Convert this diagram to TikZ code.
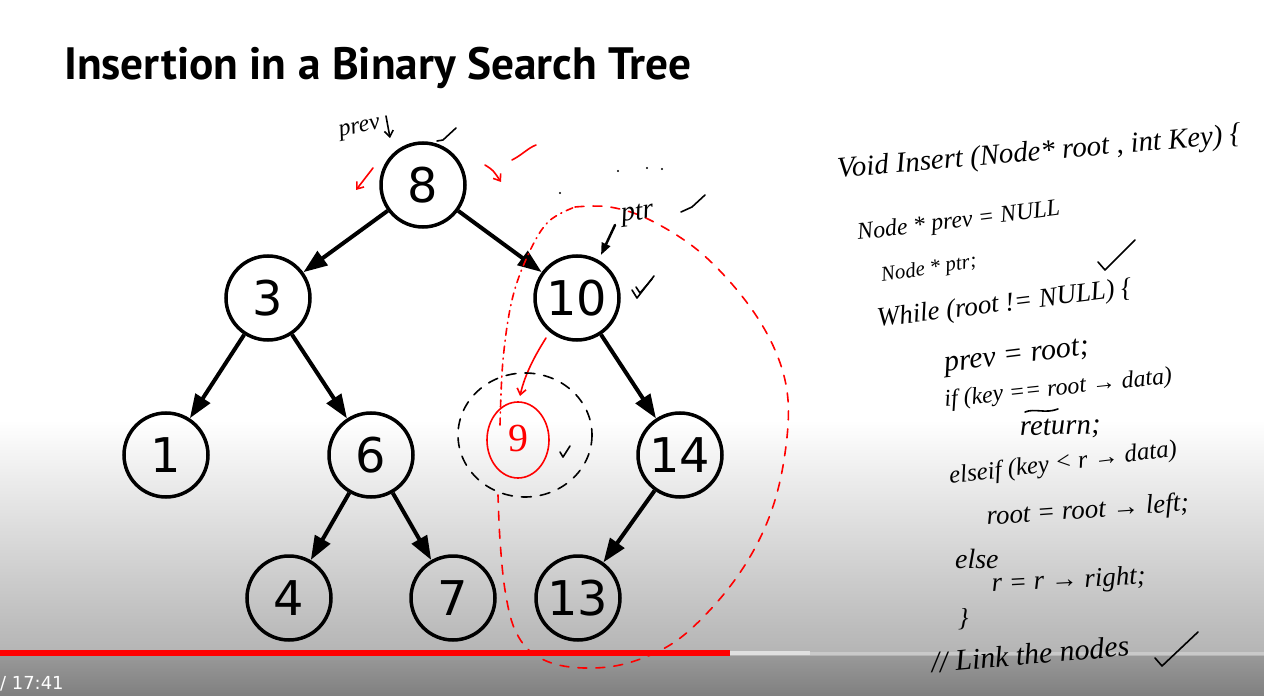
\documentclass[tikz,border=0pt]{standalone}
\usepackage{fontspec}
\setmainfont{DejaVu Sans}
\newfontfamily\titlefont{PT Sans}
\newfontfamily\handfont{Liberation Serif}
\usetikzlibrary{arrows.meta}

\tikzset{
  bst/.style={circle, draw, line width=3.5bp, minimum size=84bp, inner sep=0pt,
    font=\fontsize{48}{48}\selectfont},
  edge/.style={-{Triangle[length=24bp,width=17bp]}, line width=4bp},
  hand/.style={anchor=base west, inner sep=0pt,
    font=\handfont\itshape\fontsize{#1}{#1}\selectfont},
  hand/.default=26,
  ink/.style={line width=1.6bp, line cap=round, line join=round},
  barb/.style={ink, -{Straight Barb[length=6bp,width=9bp]}}
}

\begin{document}
\begin{tikzpicture}[x=1bp, y=-1bp]
\useasboundingbox (0,0) rectangle (1264,696);

% --- sfondo e barra del video ---
\fill[white] (0,0) rectangle (1264,421);
\shade[top color=white, bottom color=black!29] (0,420) rectangle (1264,651);
\shade[top color=black!40, bottom color=black!50] (0,655) rectangle (1264,696);
\fill[black!29] (0,650) rectangle (1264,656);
\fill[red] (0,650) rectangle (730,656);
\fill[black!12] (730,651) rectangle (810,655);
\fill[black!21] (810,652) rectangle (1264,655);
\node[anchor=west, inner sep=0pt, text=white, font=\fontsize{18}{18}\selectfont] (time) at (0,684) {/ 17:41};

% --- titolo ---
\node[anchor=base west, inner sep=0pt, font=\titlefont\bfseries\fontsize{45.5}{45.5}\selectfont] (title) at (64,80) {Insertion in a Binary Search Tree};

% --- albero ---
\node[bst] (n8)  at (423,185) {8};
\node[bst] (n3)  at (268,298) {3};
\node[bst] (n10) at (577,298) {10};
\node[bst] (n1)  at (166,455) {1};
\node[bst] (n6)  at (371,455) {6};
\node[bst] (n14) at (680,455) {14};
\node[bst] (n4)  at (289,598) {4};
\node[bst] (n7)  at (453,598) {7};
\node[bst] (n13) at (578,598) {13};

\draw[edge] (n8) -- (n3);
\draw[edge] (n8) -- (n10);
\draw[edge] (n3) -- (n1);
\draw[edge] (n3) -- (n6);
\draw[edge] (n6) -- (n4);
\draw[edge] (n6) -- (n7);
\draw[edge] (n10) -- (n14);
\draw[edge] (n14) -- (n13);

% --- annotazioni rosse ---
\draw[red, ink, dash pattern=on 9bp off 9bp]
  plot[smooth, tension=0.6] coordinates {(575,207) (610,207) (650,220) (700,252) (745,300) (775,350) (788,400) (784,460) (770,515) (745,565) (710,610) (670,645) (620,665) (570,667) (535,655) (515,630) (505,590) (500,540) (498,495)};
\draw[red, ink, dash pattern=on 7bp off 5bp on 1bp off 5bp]
  plot[smooth, tension=0.6] coordinates {(500,425) (503,360) (512,300) (528,255) (548,222) (575,207)};
\draw[red, barb] (373,168) -- (356,190);
\draw[red, barb] (485,165) .. controls (493,170) .. (501,182);
\draw[red, ink] (512,160) .. controls (522,155) and (528,148) .. (536,145);
\draw[red, barb] (546,338) .. controls (532,360) and (524,378) .. (520,396);
\draw[red, ink] (518,440) ellipse [x radius=31, y radius=38];
\node[red, font=\handfont\fontsize{40}{40}\selectfont, inner sep=0pt] (nine) at (518,438) {9};

% --- annotazioni nere ---
\draw[ink, dash pattern=on 10bp off 9bp] (525,435) ellipse [x radius=67, y radius=62];
\draw[ink] (560,452) -- (563,457) -- (570,446);
\node[hand=24, rotate=12] (prev) at (340,137) {prev};
\draw[barb] (386,116) .. controls (388,126) .. (390,138);
\draw[ink] (437,141) -- (443,140) -- (456,128);
\node[hand=28, rotate=8] (ptr) at (622,222) {ptr};
\draw[ink, -{Triangle[length=12bp,width=9bp]}, line width=2.5bp] (615,225) -- (601,255);
\draw[ink] (681,212) -- (692,207) -- (705,195);
\draw[ink] (632,290) -- (637,298) -- (654,276);
\draw[ink] (636,287) -- (640,293) -- (652,279);
\foreach \p in {(560,193),(618,171),(647,168),(662,169)} \fill \p circle (1.2bp);

% --- codice scritto a mano ---
\node[hand=29, rotate=5] (c1) at (838,178) {Void Insert (Node* root , int Key) \{};
\node[hand=24, rotate=7] (c2) at (858,240) {Node * prev = NULL};
\node[hand=21, rotate=9] (c3) at (882,282) {Node * ptr;};
\node[hand=27, rotate=7] (c4) at (878,327) {While (root != NULL) \{};
\draw[ink] (1098,262) -- (1105,270) -- (1135,240);
\node[hand=30, rotate=7] (c5) at (945,372) {prev = root;};
\node[hand=24, rotate=6] (c6) at (945,407) {if (key == root → data)};
\node[hand=29, rotate=2] (c7) at (1020,436) {return;};
\draw[ink] (1025,412) .. controls (1035,408) and (1045,414) .. (1058,409);
\node[hand=25, rotate=7] (c8) at (950,484) {elseif (key < r → data)};
\node[hand=27, rotate=4] (c9) at (987,525) {root = root → left;};
\node[hand=28] (c10) at (955,568) {else};
\node[hand=27, rotate=3] (c11) at (992,592) {r = r → right;};
\node[hand=26] (c12) at (958,626) {\}};
\node[hand=30, rotate=5] (c13) at (932,673) {// Link the nodes};
\draw[ink] (1155,658) -- (1162,666) -- (1198,632);
\end{tikzpicture}
\end{document}
